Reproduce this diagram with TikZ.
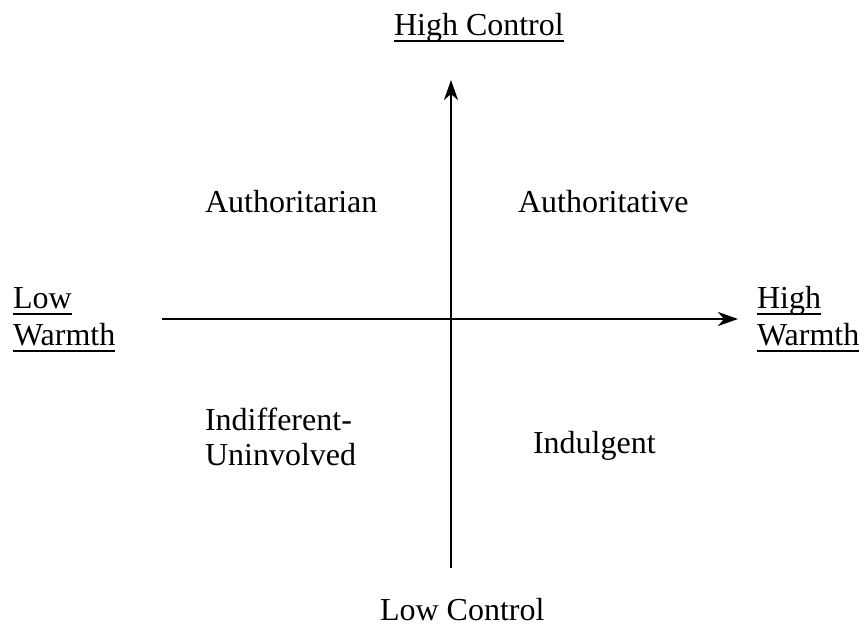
\documentclass[tikz,border=0pt]{standalone}
\usepackage{fontspec}
\setmainfont{Liberation Serif}
\usetikzlibrary{arrows.meta}
% word underline at a fixed drop below the baseline
\newcommand\ulword[1]{\setbox0\hbox{#1}\rlap{\vrule height -4.5pt depth 6.5pt width \wd0}\box0}
\begin{document}
\begin{tikzpicture}[x=1pt,y=-1pt,
  lbl/.style={inner sep=0pt,outer sep=0pt,anchor=base west,font=\fontsize{32}{38}\selectfont},
  axis/.style={line width=2pt,-{Stealth[length=20pt,width=14pt,inset=6pt]}}]
\useasboundingbox (0,0) rectangle (865,627);
% axis end points
\coordinate (top) at (451,80);
\coordinate (bottom) at (451,568);
\coordinate (left) at (162,319);
\coordinate (right) at (738,319);
\draw[axis] (bottom) -- (top);
\draw[axis] (left) -- (right);
% axis labels
\node[lbl] (hc) at (394,35) {\ulword{High Control}};
\node[lbl] (lc) at (380,620) {Low Control};
\node[lbl] (lw1) at (13,308) {\ulword{Low}};
\node[lbl] (lw2) at (13,345) {\ulword{Warmth}};
\node[lbl] (hw1) at (757,308) {\ulword{High}};
\node[lbl] (hw2) at (757,345) {\ulword{Warmth}};
% quadrant labels
\node[lbl] (q1) at (205,212) {Authoritarian};
\node[lbl] (q2) at (518,212) {Authoritative};
\node[lbl] (q3a) at (205,430) {Indifferent-};
\node[lbl] (q3b) at (205,465) {Uninvolved};
\node[lbl] (q4) at (533,453) {Indulgent};
\end{tikzpicture}
\end{document}
